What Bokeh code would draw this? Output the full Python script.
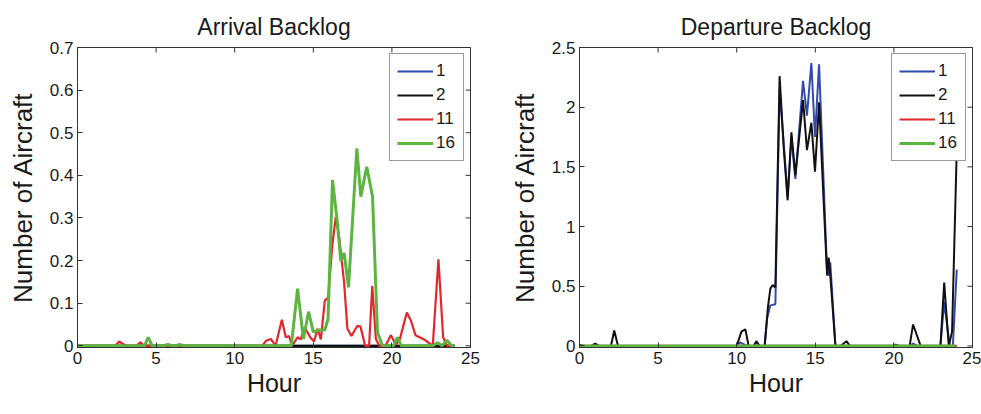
import math
from bokeh.plotting import figure
from bokeh.layouts import row
from bokeh.models import (Range1d, FixedTicker, NumeralTickFormatter, Legend, LegendItem)
from bokeh.embed import file_html
from bokeh.resources import INLINE

# ---------------- data ----------------
series_names = ["1", "2", "11", "16"]
series_colors = ["#3348b0", "#111111", "#e3262a", "#5cb540"]

x_ticks = [0, 5, 10, 15, 20, 25]
arr_y_ticks = [0, 0.1, 0.2, 0.3, 0.4, 0.5, 0.6, 0.7]
dep_y_ticks = [0, 0.5, 1, 1.5, 2, 2.5]

# Arrival backlog
arr_hours_1 = [0, 24]
arr_vals_1 = [0, 0]
arr_hours_2 = [0, 24]
arr_vals_2 = [0, 0]
arr_hours_11 = [0, 2.4, 2.65, 3.0, 3.25, 3.75, 4.0, 4.25, 11.75, 12.0, 12.3, 12.6, 13.0, 13.25,
                13.45, 13.65, 14.0, 14.2, 14.45, 14.8, 15.05, 15.27, 15.48, 15.73, 15.94, 16.22,
                16.43, 16.64, 16.96, 17.17, 17.43, 17.8, 18.0, 18.3, 18.55, 18.75, 18.98, 19.2,
                19.6, 19.93, 20.25, 20.5, 20.95, 21.2, 21.5, 22.05, 22.6, 22.96, 23.26, 23.5, 24]
arr_vals_11 = [0, 0, 0.01, 0.002, 0, 0, 0.008, 0, 0, 0.012, 0.016, 0, 0.061, 0.02,
               0.023, 0, 0.02, 0.015, 0.044, 0.02, 0.01, 0.04, 0.015, 0.106, 0.113, 0.24,
               0.302, 0.257, 0.148, 0.04, 0.023, 0.047, 0.045, 0, 0, 0.14, 0.016, 0,
               0, 0.025, 0.003, 0.015, 0.078, 0.06, 0.025, 0.015, 0, 0.203, 0.02, 0, 0]
arr_hours_16 = [0, 4.25, 4.5, 4.75, 5.5, 5.75, 6.0, 6.25, 6.5, 6.75, 13.6, 14.0, 14.37, 14.7,
                15.0, 15.37, 15.73, 15.94, 16.22, 16.5, 16.75, 16.96, 17.24, 17.77, 18.02, 18.4,
                18.77, 19.08, 19.4, 20.1, 20.35, 20.6, 22.6, 22.9, 23.2, 23.5, 23.8, 24]
arr_vals_16 = [0, 0, 0.02, 0, 0, 0.003, 0, 0, 0.003, 0, 0, 0.134, 0.016, 0.08,
               0.032, 0.037, 0.037, 0.063, 0.389, 0.30, 0.199, 0.218, 0.137, 0.463, 0.35, 0.42,
               0.35, 0.032, 0, 0, 0.02, 0, 0, 0.007, 0, 0.013, 0, 0]

# Departure backlog
dep_hours_1 = [0, 10.0, 10.2, 10.5, 10.76, 11.08, 11.25, 11.46, 11.78, 11.93, 12.14, 12.46,
               12.73, 12.99, 13.24, 13.48, 13.73, 14.22, 14.47, 14.75, 14.98, 15.24, 15.75,
               15.85, 15.95, 16.28, 20.0, 20.1, 20.3, 21.0, 21.22, 21.5, 22.96, 23.2, 23.55,
               23.75, 24.0]
dep_vals_1 = [0, 0, 0.03, 0.01, 0, 0, 0.03, 0, 0, 0.23, 0.34, 0.35,
              2.15, 1.7, 1.25, 1.75, 1.4, 2.22, 1.93, 2.37, 1.75, 2.36, 0.62,
              0.59, 0.7, 0, 0, 0.01, 0, 0, 0.02, 0, 0, 0.37, 0,
              0, 0.64]
dep_hours_2 = [0, 0.25, 0.75, 1.0, 1.25, 2.0, 2.21, 2.45, 10.0, 10.3, 10.55, 10.76, 11.08,
               11.25, 11.46, 11.78, 11.99, 12.14, 12.29, 12.46, 12.73, 12.99, 13.24, 13.48,
               13.73, 14.22, 14.47, 14.75, 14.98, 15.24, 15.75, 15.85, 15.95, 16.28, 16.6,
               16.98, 17.2, 20.0, 20.1, 20.3, 21.0, 21.22, 21.7, 22.96, 23.2, 23.49, 23.7, 24.0]
dep_vals_2 = [0.01, 0, 0, 0.02, 0, 0, 0.13, 0, 0, 0.12, 0.14, 0, 0,
              0.04, 0, 0, 0.33, 0.48, 0.51, 0.49, 2.26, 1.66, 1.22, 1.79,
              1.43, 2.06, 1.64, 1.87, 1.46, 2.04, 0.59, 0.74, 0.6, 0, 0,
              0.04, 0, 0, 0.01, 0, 0, 0.18, 0, 0, 0.53, 0, 0.12, 1.65]
dep_hours_11 = [0, 24]
dep_vals_11 = [0, 0]
dep_hours_16 = [0, 23.9]
dep_vals_16 = [0, 0]

FONT = "Liberation Sans"
TXT = "#1a1a1a"
FRAME = "#333333"


def make_fig(title, hours, vals, widths, y_ticks, y_max, y_pad, w, bl, br):
    p = figure(width=w, height=414, output_backend="svg", toolbar_location=None,
               x_range=Range1d(0, 25), y_range=Range1d(-y_pad, y_max),
               min_border_left=bl, min_border_right=br, min_border_top=47,
               min_border_bottom=67, background_fill_color="white",
               border_fill_color="white", outline_line_color=FRAME,
               outline_line_width=1)
    p.title.text = title
    p.title.text_font = FONT
    p.title.text_font_size = "23px"
    p.title.text_font_style = "normal"
    p.title.text_color = TXT
    p.title.align = "center"
    p.title.standoff = 15
    p.grid.visible = False

    xa = p.xaxis[0]
    ya = p.yaxis[0]
    xa.ticker = FixedTicker(ticks=x_ticks)
    ya.ticker = FixedTicker(ticks=y_ticks)
    ya.formatter = NumeralTickFormatter(format="0.[0]")
    xa.axis_label = "Hour"
    ya.axis_label = "Number of Aircraft"
    for ax in (xa, ya):
        ax.axis_label_text_font = FONT
        ax.axis_label_text_font_style = "normal"
        ax.axis_label_text_color = TXT
        ax.major_label_text_font = FONT
        ax.major_label_text_font_size = "17px"
        ax.major_label_text_color = TXT
        ax.major_tick_in = 5
        ax.major_tick_out = 0
        ax.minor_tick_line_color = None
        ax.axis_line_color = FRAME
        ax.major_tick_line_color = FRAME
        ax.major_label_standoff = 4
    xa.axis_label_text_font_size = "25px"
    ya.axis_label_text_font_size = "26px"
    xa.axis_label_standoff = 2
    ya.axis_label_standoff = 9

    # inward ticks on the top and right edges of the box
    p.scatter(x_ticks, [y_max] * len(x_ticks), marker="dash", size=10,
              angle=math.pi / 2, line_color=FRAME, line_width=1)
    p.scatter([25] * len(y_ticks), y_ticks, marker="dash", size=10,
              line_color=FRAME, line_width=1)

    items = []
    for name, col, hx, vy, lw in zip(series_names, series_colors, hours, vals, widths):
        r = p.line(hx, vy, line_color=col, line_width=lw)
        items.append(LegendItem(label=name, renderers=[r]))

    leg = Legend(items=items, location="top_right")
    leg.margin = 6
    leg.padding = 7
    leg.spacing = 4
    leg.glyph_width = 36
    leg.glyph_height = 18
    leg.label_height = 18
    leg.label_standoff = 3
    leg.label_text_font = FONT
    leg.label_text_font_size = "17px"
    leg.label_text_color = TXT
    leg.border_line_color = FRAME
    leg.border_line_width = 1
    leg.background_fill_color = "white"
    leg.background_fill_alpha = 1.0
    p.add_layout(leg)
    return p


p1 = make_fig("Arrival Backlog",
              [arr_hours_1, arr_hours_2, arr_hours_11, arr_hours_16],
              [arr_vals_1, arr_vals_2, arr_vals_11, arr_vals_16],
              [2.0, 2.2, 2.2, 3.0], arr_y_ticks, 0.7, 0.004, 490, 77, 20)
p2 = make_fig("Departure Backlog",
              [dep_hours_1, dep_hours_2, dep_hours_11, dep_hours_16],
              [dep_vals_1, dep_vals_2, dep_vals_11, dep_vals_16],
              [2.0, 2.0, 2.2, 3.0], dep_y_ticks, 2.5, 0.013, 491, 89, 9)

layout = row(p1, p2)
open("out.html", "w").write(file_html(layout, INLINE))
